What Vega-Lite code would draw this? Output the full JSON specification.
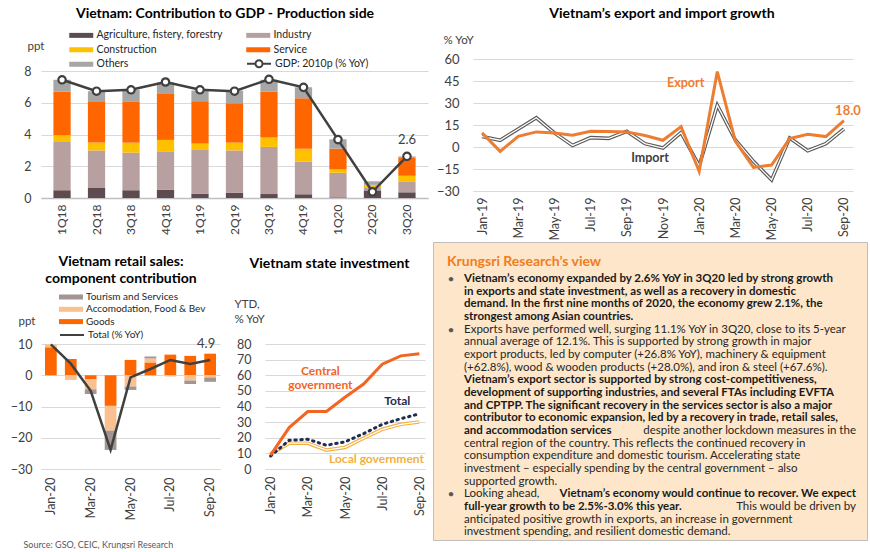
{
  "$schema": "https://vega.github.io/schema/vega-lite/v6.json",
  "background": "white",
  "padding": {"left": 10, "top": 7, "right": 0, "bottom": 0},
  "config": {
    "font": "Lato",
    "view": {"stroke": null},
    "axis": {"labelFont": "Lato", "labelColor": "#404040", "labelFontSize": 12.5, "labelOverlap": false, "labelBound": false, "titleFont": "Lato", "titleFontWeight": "normal", "titleColor": "#404040", "titleFontSize": 11.5, "gridColor": "#D9D9D9", "gridWidth": 1, "domain": false, "ticks": false},
    "legend": {"labelFont": "Lato", "labelColor": "#262626", "padding": 0},
    "title": {"font": "Lato", "fontSize": 14, "fontWeight": "bold", "color": "#000000", "frame": "group", "anchor": "middle"}
  },
  "resolve": {"scale": {"color": "independent", "stroke": "independent"}, "legend": {"color": "independent", "stroke": "independent"}},
  "bounds": "flush",
  "spacing": 392,
  "hconcat": [
    {
      "bounds": "flush",
      "spacing": 146,
      "resolve": {"scale": {"color": "independent", "stroke": "independent"}, "legend": {"color": "independent", "stroke": "independent"}},
      "vconcat": [
        {
          "width": 387,
          "height": 139,
          "title": {"text": "Vietnam: Contribution to GDP - Production side", "offset": 9, "dx": -9.5},
          "data": {"values": [
            {"q": "1Q18", "agri": 0.49, "ind": 3.04, "con": 0.43, "ser": 2.75, "oth": 0.74, "gdp": 7.45},
            {"q": "2Q18", "agri": 0.63, "ind": 2.37, "con": 0.49, "ser": 2.6, "oth": 0.63, "gdp": 6.73},
            {"q": "3Q18", "agri": 0.49, "ind": 2.37, "con": 0.63, "ser": 2.6, "oth": 0.72, "gdp": 6.82},
            {"q": "4Q18", "agri": 0.51, "ind": 2.43, "con": 0.72, "ser": 2.94, "oth": 0.68, "gdp": 7.31},
            {"q": "1Q19", "agri": 0.28, "ind": 2.79, "con": 0.36, "ser": 2.67, "oth": 0.67, "gdp": 6.82},
            {"q": "2Q19", "agri": 0.34, "ind": 2.66, "con": 0.49, "ser": 2.48, "oth": 0.8, "gdp": 6.73},
            {"q": "3Q19", "agri": 0.25, "ind": 2.97, "con": 0.59, "ser": 2.9, "oth": 0.74, "gdp": 7.48},
            {"q": "4Q19", "agri": 0.23, "ind": 2.06, "con": 0.82, "ser": 3.18, "oth": 0.69, "gdp": 6.97},
            {"q": "1Q20", "agri": 0.04, "ind": 1.55, "con": 0.21, "ser": 1.31, "oth": 0.59, "gdp": 3.68},
            {"q": "2Q20", "agri": 0.48, "ind": 0.15, "con": 0.2, "ser": 0, "oth": 0.22, "gdp": 0.39},
            {"q": "3Q20", "agri": 0.36, "ind": 0.69, "con": 0.35, "ser": 1.16, "oth": 0.06, "gdp": 2.62}
          ]},
          "encoding": {
            "x": {"field": "q", "type": "ordinal", "sort": null, "scale": {"paddingInner": 0.5, "paddingOuter": 0.36},
              "axis": {"title": null, "labelAngle": -90, "labelPadding": 6, "labelFontSize": 12, "labelOverlap": false, "domain": true, "domainColor": "#BFBFBF", "domainWidth": 1.5}}
          },
          "layer": [
            {
              "transform": [
                {"fold": ["agri", "ind", "con", "ser", "oth"], "as": ["comp", "v"]},
                {"window": [{"op": "row_number", "as": "k"}], "groupby": ["q"]}
              ],
              "mark": {"type": "bar"},
              "encoding": {
                "y": {"field": "v", "type": "quantitative", "stack": "zero", "title": "ppt",
                  "scale": {"domain": [0, 8.76], "nice": false},
                  "axis": {"values": [0, 2, 4, 6, 8], "tickCount": 20, "format": "d", "labelOverlap": false, "titleAngle": 0, "titleX": -14, "titleY": -13, "titleAlign": "left", "titleBaseline": "middle", "labelPadding": 10, "grid": true, "labelFontSize": 12.5}},
                "color": {"field": "comp", "type": "nominal",
                  "scale": {"domain": ["agri", "ind", "con", "ser", "oth"], "range": ["#5E4B50", "#B8A0A0", "#FFC000", "#FF6600", "#A6A6A6"]},
                  "legend": {"title": null, "orient": "none", "direction": "horizontal", "legendX": 28, "legendY": -29, "columns": 2, "columnPadding": 23, "rowPadding": 3.5,
                    "symbolType": "M-1,-0.5H3.8V0.5H-1Z", "symbolSize": 100, "symbolStrokeWidth": 0, "labelFontSize": 10.5, "labelOffset": 17,
                    "labelExpr": "{'agri': 'Agriculture, fistery, forestry', 'ind': 'Industry', 'con': 'Construction', 'ser': 'Service', 'oth': 'Others'}[datum.label]"}},
                "order": {"field": "k", "type": "quantitative"}
              }
            },
            {
              "mark": {"type": "line", "strokeWidth": 2.5},
              "encoding": {
                "y": {"field": "gdp", "type": "quantitative", "title": "ppt"},
                "stroke": {"datum": "GDP: 2010p (% YoY)", "scale": {"range": ["#404040"]},
                  "legend": {"title": null, "orient": "none", "legendX": 205, "legendY": -1.25,
                    "symbolType": "M-1,0H0.7M2.1,0H3.8M0.7,0A0.7,0.7,0,1,1,2.1,0A0.7,0.7,0,1,1,0.7,0", "symbolSize": 100, "symbolStrokeWidth": 2, "symbolFillColor": "white", "labelFontSize": 10.5, "labelOffset": 17}}
              }
            },
            {
              "mark": {"type": "point", "filled": true, "fill": "white", "stroke": "#404040", "strokeWidth": 2.2, "size": 55, "opacity": 1},
              "encoding": {"y": {"field": "gdp", "type": "quantitative", "title": "ppt"}}
            },
            {
              "transform": [{"filter": "datum.q == '3Q20'"}],
              "mark": {"type": "text", "dy": -16, "fontSize": 13, "color": "#404040"},
              "encoding": {"y": {"field": "gdp", "type": "quantitative", "title": "ppt"}, "text": {"field": "gdp", "format": ".1f"}}
            }
          ]
        },
        {
          "bounds": "flush",
          "spacing": 45,
          "resolve": {"scale": {"color": "independent", "stroke": "independent"}, "legend": {"color": "independent", "stroke": "independent"}},
          "hconcat": [
            {
              "width": 179,
              "height": 125,
              "title": {"text": ["Vietnam retail sales:", "component contribution"], "offset": 6, "dx": -9.5, "lineHeight": 17},
              "data": {"values": [
                {"m": "Jan-20", "goods": 8.96, "acc": 0.96, "tour": 0, "total": 9.9},
                {"m": "Feb-20", "goods": 5.2, "acc": -1.5, "tour": 0, "total": 3.7},
                {"m": "Mar-20", "goods": -1.2, "acc": -3.3, "tour": -1.5, "total": -5.0},
                {"m": "Apr-20", "goods": -9.8, "acc": -7.9, "tour": -6.2, "total": -23.9},
                {"m": "May-20", "goods": 4.9, "acc": -3.6, "tour": -1.1, "total": -0.7},
                {"m": "Jun-20", "goods": 4.1, "acc": 1.3, "tour": 0.6, "total": 2.0},
                {"m": "Jul-20", "goods": 6.6, "acc": -0.4, "tour": 0, "total": 4.9},
                {"m": "Aug-20", "goods": 6.2, "acc": -1.7, "tour": -1.1, "total": 3.6},
                {"m": "Sep-20", "goods": 6.9, "acc": -0.7, "tour": -1.4, "total": 4.9}
              ]},
              "encoding": {
                "x": {"field": "m", "type": "ordinal", "sort": null, "scale": {"paddingInner": 0.41, "paddingOuter": 0.2},
                  "axis": {"title": "Source: GSO, CEIC, Krungsri Research", "titleX": -18, "titleY": 75, "titleAlign": "left", "titleAngle": 0, "titleBaseline": "middle", "titleFontSize": 9, "titleColor": "#595959",
                    "values": ["Jan-20", "Mar-20", "May-20", "Jul-20", "Sep-20"], "labelAngle": -90, "labelPadding": 8, "labelFontSize": 12.5, "labelOverlap": false, "domain": true, "domainColor": "#D9D9D9"}}
              },
              "layer": [
                {
                  "transform": [
                    {"fold": ["goods", "acc", "tour"], "as": ["comp", "v"]},
                    {"window": [{"op": "row_number", "as": "k"}], "groupby": ["m"]}
                  ],
                  "mark": {"type": "bar"},
                  "encoding": {
                    "y": {"field": "v", "type": "quantitative", "stack": "zero", "title": "ppt",
                      "scale": {"domain": [-30, 10], "nice": false},
                      "axis": {"values": [-30, -20, -10, 0, 10], "tickCount": 20, "format": "d", "labelOverlap": false, "titleAngle": 0, "titleX": -23, "titleY": -23, "titleAlign": "left", "titleBaseline": "middle", "labelPadding": 9, "grid": true}},
                    "color": {"field": "comp", "type": "nominal",
                      "scale": {"domain": ["tour", "acc", "goods"], "range": ["#A39594", "#FAC08F", "#FF6600"]},
                      "legend": {"title": null, "orient": "none", "legendX": 18, "legendY": -52, "rowPadding": 2.3,
                        "symbolType": "M-1,-0.5H3.8V0.5H-1Z", "symbolSize": 100, "symbolStrokeWidth": 0, "labelFontSize": 10, "labelOffset": 17,
                        "labelExpr": "{'tour': 'Tourism and Services', 'acc': 'Accomodation, Food & Bev', 'goods': 'Goods'}[datum.label]"}},
                    "order": {"field": "k", "type": "quantitative"}
                  }
                },
                {
                  "mark": {"type": "line", "strokeWidth": 2.5},
                  "encoding": {
                    "y": {"field": "total", "type": "quantitative", "title": "ppt"},
                    "stroke": {"datum": "Total (% YoY)", "scale": {"range": ["#404040"]},
                      "legend": {"title": null, "orient": "none", "legendX": 18, "legendY": -15, "symbolType": "M-1,0H3.8", "symbolSize": 100, "symbolStrokeWidth": 2, "labelFontSize": 10, "labelOffset": 17}}
                  }
                },
                {
                  "transform": [{"filter": "datum.m == 'Sep-20'"}],
                  "mark": {"type": "text", "dy": -16, "dx": -4, "fontSize": 13, "color": "#404040"},
                  "encoding": {"y": {"field": "total", "type": "quantitative", "title": "ppt"}, "text": {"field": "total", "format": ".1f"}}
                }
              ]
            },
            {
              "width": 160,
              "height": 125,
              "title": {"text": "Vietnam state investment", "offset": 27, "dx": -15.5},
              "data": {"values": [
                {"m": "Jan-20", "central": 8.9, "total": 8.3, "local": 9.5},
                {"m": "Feb-20", "central": 26.5, "total": 18.4, "local": 16.5},
                {"m": "Mar-20", "central": 36.8, "total": 19.0, "local": 16.5},
                {"m": "Apr-20", "central": 36.8, "total": 15.2, "local": 12.1},
                {"m": "May-20", "central": 45.9, "total": 17.4, "local": 13.8},
                {"m": "Jun-20", "central": 54.4, "total": 22.6, "local": 19.7},
                {"m": "Jul-20", "central": 67.1, "total": 28.6, "local": 25.4},
                {"m": "Aug-20", "central": 72.4, "total": 32.2, "local": 28.6},
                {"m": "Sep-20", "central": 73.7, "total": 35.3, "local": 30.1}
              ]},
              "encoding": {
                "x": {"field": "m", "type": "ordinal", "sort": null, "scale": {"type": "point", "padding": 0.3},
                  "axis": {"title": null, "values": ["Jan-20", "Mar-20", "May-20", "Jul-20", "Sep-20"], "labelAngle": -90, "labelPadding": 7, "labelFontSize": 12.5, "labelOverlap": false, "domain": true, "domainColor": "#D9D9D9"}}
              },
              "layer": [
                {
                  "mark": {"type": "line", "stroke": "#F4B042", "strokeWidth": 3.6},
                  "encoding": {"y": {"field": "local", "type": "quantitative", "title": ["YTD,", "% YoY"],
                    "scale": {"domain": [0, 80], "nice": false},
                    "axis": {"values": [0, 10, 20, 30, 40, 50, 60, 70, 80], "tickCount": 20, "format": "d", "labelOverlap": false, "titleAngle": 0, "titleX": -31, "titleY": -46, "titleAlign": "left", "titleBaseline": "top", "titleLineHeight": 15, "labelPadding": 14, "grid": true}}}
                },
                {
                  "mark": {"type": "line", "stroke": "white", "strokeWidth": 1.3},
                  "encoding": {"y": {"field": "local", "type": "quantitative", "title": ["YTD,", "% YoY"]}}
                },
                {
                  "mark": {"type": "line", "stroke": "#1F2D50", "strokeWidth": 3, "strokeDash": [1.5, 4.5], "strokeCap": "round"},
                  "encoding": {"y": {"field": "total", "type": "quantitative", "title": ["YTD,", "% YoY"]}}
                },
                {
                  "mark": {"type": "line", "stroke": "#F26522", "strokeWidth": 3},
                  "encoding": {"y": {"field": "central", "type": "quantitative", "title": ["YTD,", "% YoY"]}}
                },
                {
                  "transform": [{"filter": "datum.m == 'Apr-20'"}],
                  "mark": {"type": "text", "dx": -6, "dy": -41, "fontSize": 12, "fontWeight": "bold", "color": "#F26522", "lineHeight": 14, "baseline": "middle"},
                  "encoding": {"y": {"field": "central", "type": "quantitative", "title": ["YTD,", "% YoY"]}, "text": {"value": ["Central", "government"]}}
                },
                {
                  "transform": [{"filter": "datum.m == 'Jul-20'"}],
                  "mark": {"type": "text", "dx": 15, "dy": -23, "fontSize": 12, "fontWeight": "bold", "color": "#1F2D50"},
                  "encoding": {"y": {"field": "total", "type": "quantitative", "title": ["YTD,", "% YoY"]}, "text": {"value": "Total"}}
                },
                {
                  "transform": [{"filter": "datum.m == 'Jul-20'"}],
                  "mark": {"type": "text", "dx": -5.7, "dy": 30, "fontSize": 12, "fontWeight": "bold", "color": "#F4B042"},
                  "encoding": {"y": {"field": "local", "type": "quantitative", "title": ["YTD,", "% YoY"]}, "text": {"value": "Local government"}}
                }
              ]
            }
          ]
        }
      ]
    },
    {
      "bounds": "flush",
      "spacing": 183,
      "resolve": {"scale": {"color": "independent", "stroke": "independent"}, "legend": {"color": "independent", "stroke": "independent"}},
      "vconcat": [
        {
          "bounds": "flush",
          "spacing": 39,
          "hconcat": [
            {"width": 1, "height": 1, "data": {"values": []}, "mark": "point"},
            {
              "width": 380,
              "height": 132,
              "title": {"text": "Vietnam’s export and import growth", "offset": 13, "dx": -1},
              "data": {"values": [
                {"m": "Jan-19", "exp": 9.6, "imp": 7.1},
                {"m": "Feb-19", "exp": -3.0, "imp": 4.6},
                {"m": "Mar-19", "exp": 7.3, "imp": 12.3},
                {"m": "Apr-19", "exp": 10.3, "imp": 19.9},
                {"m": "May-19", "exp": 9.6, "imp": 9.6},
                {"m": "Jun-19", "exp": 8.0, "imp": 1.1},
                {"m": "Jul-19", "exp": 10.7, "imp": 6.4},
                {"m": "Aug-19", "exp": 10.5, "imp": 5.9},
                {"m": "Sep-19", "exp": 10.3, "imp": 10.7},
                {"m": "Oct-19", "exp": 7.8, "imp": 2.3},
                {"m": "Nov-19", "exp": 4.6, "imp": -0.7},
                {"m": "Dec-19", "exp": 13.9, "imp": 9.8},
                {"m": "Jan-20", "exp": -16.7, "imp": -12.8},
                {"m": "Feb-20", "exp": 51.4, "imp": 28.5},
                {"m": "Mar-20", "exp": 3.9, "imp": 4.8},
                {"m": "Apr-20", "exp": -13.9, "imp": -9.8},
                {"m": "May-20", "exp": -12.3, "imp": -22.4},
                {"m": "Jun-20", "exp": 5.7, "imp": 6.2},
                {"m": "Jul-20", "exp": 8.7, "imp": -2.5},
                {"m": "Aug-20", "exp": 7.1, "imp": 2.3},
                {"m": "Sep-20", "exp": 18.0, "imp": 12.3}
              ]},
              "encoding": {
                "x": {"field": "m", "type": "ordinal", "sort": null, "scale": {"type": "point", "padding": 0.5},
                  "axis": {"title": null, "values": ["Jan-19", "Mar-19", "May-19", "Jul-19", "Sep-19", "Nov-19", "Jan-20", "Mar-20", "May-20", "Jul-20", "Sep-20"], "labelAngle": -90, "labelPadding": 6, "labelFontSize": 12.5, "labelOverlap": false, "domain": true, "domainColor": "#D9D9D9"}}
              },
              "layer": [
                {
                  "mark": {"type": "line", "stroke": "#595959", "strokeWidth": 3.6},
                  "encoding": {"y": {"field": "imp", "type": "quantitative", "title": "% YoY",
                    "scale": {"domain": [-30, 60], "nice": false},
                    "axis": {"values": [-30, -15, 0, 15, 30, 45, 60], "tickCount": 20, "format": "d", "labelOverlap": false, "titleAngle": 0, "titleX": -30, "titleY": -19, "titleAlign": "left", "titleBaseline": "middle", "labelPadding": 14, "grid": true, "labelFontSize": 13}}}
                },
                {
                  "mark": {"type": "line", "stroke": "white", "strokeWidth": 1.3},
                  "encoding": {"y": {"field": "imp", "type": "quantitative", "title": "% YoY"}}
                },
                {
                  "mark": {"type": "line", "stroke": "#ED7D31", "strokeWidth": 3},
                  "encoding": {"y": {"field": "exp", "type": "quantitative", "title": "% YoY"}}
                },
                {
                  "transform": [{"filter": "datum.m == 'Feb-20'"}],
                  "mark": {"type": "text", "dx": -13, "dy": 11, "align": "right", "fontSize": 12.5, "fontWeight": "bold", "color": "#ED7D31"},
                  "encoding": {"y": {"field": "exp", "type": "quantitative", "title": "% YoY"}, "text": {"value": "Export"}}
                },
                {
                  "transform": [{"filter": "datum.m == 'Nov-19'"}],
                  "mark": {"type": "text", "dx": -13, "dy": 10, "fontSize": 12.5, "fontWeight": "bold", "color": "#404040"},
                  "encoding": {"y": {"field": "imp", "type": "quantitative", "title": "% YoY"}, "text": {"value": "Import"}}
                },
                {
                  "transform": [{"filter": "datum.m == 'Sep-20'"}],
                  "mark": {"type": "text", "dx": 4, "dy": -10, "fontSize": 13, "fontWeight": "bold", "color": "#ED7D31"},
                  "encoding": {"y": {"field": "exp", "type": "quantitative", "title": "% YoY"}, "text": {"field": "exp", "format": ".1f"}}
                }
              ]
            }
          ]
        },
        {
          "width": 434,
          "height": 298,
          "view": {"fill": "#FDE6C9", "stroke": "#BFBFBF"},
          "title": {"text": "Krungsri Research’s view", "anchor": "start", "dx": 14, "offset": -27, "color": "#F07D22", "fontSize": 14},
          "layer": [
            {
              "data": {"values": [
                {"line": 1, "t": "Vietnam’s economy expanded by 2.6% YoY in 3Q20 led by strong growth"},
                {"line": 2, "t": "in exports and state investment, as well as a recovery in domestic"},
                {"line": 3, "t": "demand. In the first nine months of 2020, the economy grew 2.1%, the"},
                {"line": 4, "t": "strongest among Asian countries."},
                {"line": 9, "t": "Vietnam’s export sector is supported by strong cost-competitiveness,"},
                {"line": 10, "t": "development of supporting industries, and several FTAs including EVFTA"},
                {"line": 11, "t": "and CPTPP. The significant recovery in the services sector is also a major"},
                {"line": 12, "t": "contributor to economic expansion, led by a recovery in trade, retail sales,"},
                {"line": 13, "t": "and accommodation services"},
                {"line": 19, "t": "full-year growth to be 2.5%-3.0% this year."}
              ]},
              "mark": {"type": "text", "align": "left", "baseline": "middle", "fontWeight": "bold", "fontSize": 11.5, "dx": 10, "color": "#1A1A1A"},
              "encoding": {
                "x": {"datum": "left", "type": "nominal", "scale": {"type": "point", "domain": ["left", "right"], "padding": 0.0536}, "axis": null},
                "y": {"field": "line", "type": "quantitative", "scale": {"domain": [-1.93, 21.62], "reverse": true, "nice": false, "zero": false}, "axis": null},
                "text": {"field": "t"}
              }
            },
            {
              "data": {"values": [
                {"line": 5, "t": "Exports have performed well, surging 11.1% YoY in 3Q20, close to its 5-year"},
                {"line": 6, "t": "annual average of 12.1%. This is supported by strong growth in major"},
                {"line": 7, "t": "export products, led by computer (+26.8% YoY), machinery & equipment"},
                {"line": 8, "t": "(+62.8%), wood & wooden products (+28.0%), and iron & steel (+67.6%)."},
                {"line": 14, "t": "central region of the country. This reflects the continued recovery in"},
                {"line": 15, "t": "consumption expenditure and domestic tourism. Accelerating state"},
                {"line": 16, "t": "investment – especially spending by the central government – also"},
                {"line": 17, "t": "supported growth."},
                {"line": 18, "t": "Looking ahead,"},
                {"line": 20, "t": "anticipated positive growth in exports, an increase in government"},
                {"line": 21, "t": "investment spending, and resilient domestic demand."}
              ]},
              "mark": {"type": "text", "align": "left", "baseline": "middle", "fontSize": 11.5, "dx": 10, "color": "#262626"},
              "encoding": {
                "x": {"datum": "left", "type": "nominal", "scale": {"type": "point", "domain": ["left", "right"], "padding": 0.0536}, "axis": null},
                "y": {"field": "line", "type": "quantitative", "axis": null},
                "text": {"field": "t"}
              }
            },
            {
              "data": {"values": [
                {"line": 18, "t": "Vietnam’s economy would continue to recover. We expect"}
              ]},
              "mark": {"type": "text", "align": "right", "baseline": "middle", "fontWeight": "bold", "fontSize": 11.5, "dx": 10, "color": "#1A1A1A"},
              "encoding": {
                "x": {"datum": "right", "type": "nominal", "scale": {"type": "point", "domain": ["left", "right"], "padding": 0.0536}, "axis": null},
                "y": {"field": "line", "type": "quantitative", "axis": null},
                "text": {"field": "t"}
              }
            },
            {
              "data": {"values": [
                {"line": 13, "t": "despite another lockdown measures in the"},
                {"line": 19, "t": "This would be driven by"}
              ]},
              "mark": {"type": "text", "align": "right", "baseline": "middle", "fontSize": 11.5, "dx": 10, "color": "#262626"},
              "encoding": {
                "x": {"datum": "right", "type": "nominal", "scale": {"type": "point", "domain": ["left", "right"], "padding": 0.0536}, "axis": null},
                "y": {"field": "line", "type": "quantitative", "axis": null},
                "text": {"field": "t"}
              }
            },
            {
              "data": {"values": [{"line": 1}, {"line": 5}, {"line": 18}]},
              "mark": {"type": "text", "align": "center", "baseline": "middle", "fontSize": 12, "dx": -3, "color": "#595959"},
              "encoding": {
                "x": {"datum": "left", "type": "nominal", "scale": {"type": "point", "domain": ["left", "right"], "padding": 0.0536}, "axis": null},
                "y": {"field": "line", "type": "quantitative", "axis": null},
                "text": {"value": "•"}
              }
            }
          ]
        }
      ]
    }
  ]
}
